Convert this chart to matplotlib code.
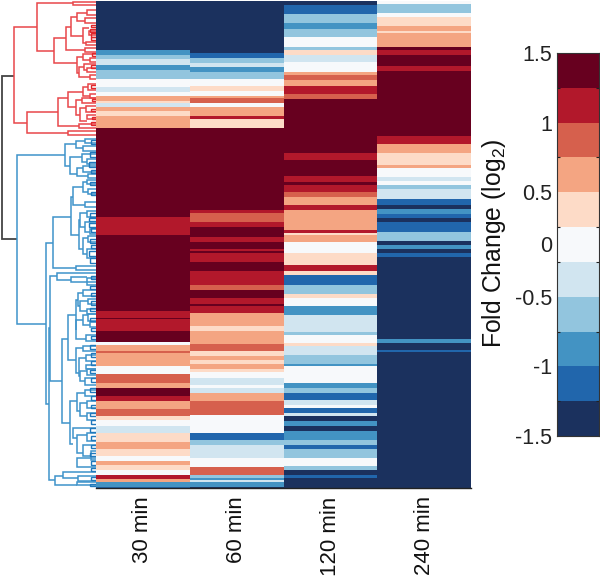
import numpy as np
import matplotlib
matplotlib.use("Agg")
import matplotlib.pyplot as plt
from matplotlib.colors import ListedColormap, BoundaryNorm

plt.rcParams['font.family'] = ['Liberation Sans', 'DejaVu Sans']
plt.rcParams['mathtext.default'] = 'regular'

W, H = 600, 579
TIMES = ['30 min', '60 min', '120 min', '240 min']
COLORS = ['#1B315E', '#2166AC', '#4393C3', '#92C5DE', '#D1E5F0', '#F7F9FB',
          '#FDDBC7', '#F4A582', '#D6604D', '#B2182B', '#67001F']
CB_TICKLABELS = {11: '1.5', 9: '1', 7: '0.5', 5.5: '0', 4: '-0.5', 2: '-1', 0: '-1.5'}
BOT = 735
TOTAL = 1465

# (level, last row of run) for the upper and lower part of each column
C1_T = [(-5,150),(-3,165),(-2,178),(-1,195),(-3,210),(-2,237),(0,262),(-1,275),(0,288),(2,302),(1,310),(-1,322),(2,332),(1,347),(2,385),(5,650),(4,705),(5,735)]
C1_B = [(5,198),(4,220),(5,224),(4,260),(5,293),(0,300),(2,318),(3,325),(2,365),(0,388),(3,415),(2,430),(5,455),(4,468),(2,492),(3,515),(1,527),(0,543),(-1,565),(1,592),(2,612),(1,635),(0,650),(2,662),(1,675),(0,690),(4,702),(2,712),(-3,726),(-4,730)]
C2_T = [(-5,160),(-4,175),(-2,190),(-1,200),(-3,215),(-2,237),(0,258),(1,272),(0,288),(2,295),(3,308),(0,322),(2,347),(4,358),(1,385),(5,630),(4,640),(3,665),(4,680),(5,712),(4,725),(5,735)]
C2_B = [(5,12),(4,20),(5,25),(4,52),(5,78),(4,120),(3,135),(5,160),(4,178),(5,185),(4,205),(2,245),(1,260),(2,298),(3,320),(1,335),(2,345),(1,358),(2,372),(1,382),(0,400),(-1,420),(0,430),(-1,445),(2,468),(3,510),(0,565),(-4,585),(-2,600),(-1,640),(0,668),(3,690),(-2,700),(-3,705),(-1,712),(-3,726),(-5,730)]
C3_T = [(-5,15),(-4,42),(-2,68),(-3,88),(-2,112),(0,140),(-2,150),(1,165),(-1,185),(0,215),(2,225),(3,240),(2,258),(4,282),(3,298),(5,458),(4,480),(5,527),(4,545),(5,555),(4,575),(3,590),(2,615),(4,630),(2,690),(4,698),(1,705),(2,725),(0,735)]
C3_B = [(0,25),(1,60),(4,80),(1,90),(-4,120),(-2,148),(1,160),(0,185),(-3,210),(-1,262),(-2,270),(0,295),(1,305),(-1,330),(-2,358),(-3,365),(0,415),(-3,430),(-2,445),(-4,465),(-1,480),(0,490),(-4,505),(-1,515),(-5,528),(-3,545),(-5,560),(-3,585),(-2,600),(-4,612),(-2,640),(0,665),(-2,675),(-5,690),(-4,700),(-5,730)]
C4_T = [(0,12),(-2,38),(0,52),(1,78),(2,92),(1,100),(2,140),(5,150),(4,165),(5,197),(4,212),(5,408),(4,432),(2,458),(1,495),(2,505),(0,530),(-1,542),(0,555),(-2,568),(-1,598),(-4,615),(-5,628),(-3,642),(-4,655),(-5,665),(-4,695),(-2,722),(-5,735)]
C4_B = [(-3,12),(-5,25),(-4,38),(-5,283),(-3,295),(-5,315),(-4,322),(-5,730)]

# dendrogram brackets: (height, row a, child height a, row b, child height b)
ROOT = [(5,228,42,717,52)]
RED = [(42,80,112,370,82),(112,10,220,152,163),(220,7,288,14,288),(163,113,198,190,232),(198,80,212,150,255),
       (212,50,232,108,250),(232,38,262,62,255),(262,30,288,44,288),(255,55,288,68,288),(250,85,268,130,258),
       (268,92,288,104,288),(258,125,288,136,288),(255,145,288,155,288),(232,172,250,220,238),(250,163,288,180,270),
       (270,175,288,186,288),(238,200,252,232,270),(252,192,288,210,262),(262,205,288,215,288),(270,226,288,238,288),
       (82,337,175,398,205),(205,392,288,404,288),(175,295,205,378,238),(205,275,248,320,228),(248,262,265,288,270),
       (265,252,288,270,288),(270,282,288,294,288),(228,300,245,345,240),(245,295,288,310,288),(240,325,258,362,262),
       (258,318,288,335,288),(262,345,288,358,288),(238,372,288,385,288)]
RED_LEAVES = [(272,74,82),(270,88,96),(274,98,110),(272,112,120),(276,160,168),(274,196,204),(272,256,264),(276,298,304),
              (274,326,332),(276,350,356),(272,366,376)]
BLUE_U = [(52,465,195,972,138),(195,432,228,497,210),(228,422,255,445,248),(255,416,288,428,288),(248,438,288,452,288),
          (210,472,245,522,232),(245,462,288,485,262),(262,478,288,492,288),(232,505,250,528,265),(250,498,288,515,288),
          (265,522,288,534,288),(158,650,212,805,228),(212,590,220,705,238),(220,560,248,615,255),(248,545,262,575,265),
          (262,540,288,552,288),(265,568,288,582,288),(255,605,288,622,288),(238,660,240,748,250),(240,640,262,680,255),
          (262,632,288,650,288),(255,665,288,695,270),(270,688,288,702,288),(250,715,265,762,260),(265,708,288,725,288),
          (260,748,288,775,288),(228,798,288,812,288)]
BLUE_L = [(138,-5,158,478,148),(148,250,150,705,165),(150,95,172,408,185),(172,85,288,105,212),(212,98,260,112,288),
          (262,100,288,120,288),(185,282,205,535,210),(205,210,228,345,228),(228,165,235,255,228),(235,145,250,185,240),
          (250,135,288,155,288),(240,170,265,200,262),(265,162,288,178,288),(262,192,288,208,288),(228,225,248,282,258),
          (248,212,265,240,270),(265,208,288,228,288),(270,232,288,248,288),(258,272,288,290,288),(228,310,248,385,238),
          (248,305,288,318,288),(238,340,258,395,240),(258,330,288,350,288),(258,360,288,372,288),(240,380,262,410,255),
          (262,372,288,390,288),(255,400,288,420,288),(210,470,232,598,218),(232,445,255,500,240),(255,435,288,455,288),
          (240,475,262,515,262),(262,468,288,490,288),(262,505,288,525,288),(218,550,288,580,230),(230,570,262,625,250),
          (262,565,288,590,288),(250,600,288,635,272),(272,620,288,645,288),(230,640,288,668,288),(165,695,190,720,232),
          (190,683,288,700,235),(235,695,288,708,288),(232,712,288,722,288)]
BLUE_LEAVES = [(272,420,432),(270,456,470),(268,486,500),(274,510,520),(270,545,555),(272,576,586),(270,640,652),(266,655,664),
               (268,668,680),(272,684,696),(270,718,728),(272,735,745),(266,755,768),(270,775,790),(272,830,838),(270,858,868),
               (274,880,890),(272,905,915),(270,925,935),(270,955,965),(274,985,995),(272,1008,1018),(270,1035,1048),(272,1060,1072),
               (274,1085,1095),(270,1110,1120),(272,1135,1148),(270,1165,1178),(274,1190,1200),(272,1215,1225),(270,1240,1250),
               (272,1262,1272),(270,1285,1298),(274,1310,1320),(272,1335,1345),(270,1360,1370),(272,1385,1395),(274,1405,1415),
               (272,1432,1442),(270,1452,1460)]


def column(top, bottom):
    lv = [a for a, _ in top] + [a for a, _ in bottom]
    ends = [b for _, b in top] + [b + BOT for _, b in bottom]
    return np.repeat(lv, np.diff([0] + ends))


def rect(x0, y0, x1, y1):
    return [x0 / W, 1 - y1 / H, (x1 - x0) / W, (y1 - y0) / H]


fig = plt.figure(figsize=(W / 100, H / 100), dpi=100)
cmap = ListedColormap(COLORS)
norm = BoundaryNorm(np.arange(-5.5, 6.5), cmap.N)

# heatmap
ax = fig.add_axes(rect(96, 1, 471, 488))
data = np.column_stack([column(C1_T, C1_B), column(C2_T, C2_B), column(C3_T, C3_B), column(C4_T, C4_B)])
ax.pcolormesh(np.arange(5), np.arange(TOTAL + 1), data, cmap=cmap, norm=norm, shading='flat',
              antialiased=False, rasterized=True)
ax.set_xlim(0, 4)
ax.set_ylim(TOTAL, 3)
ax.set_xticks(np.arange(4) + 0.5)
ax.set_xticklabels(TIMES, rotation=90, fontsize=16, color='#111111')
ax.tick_params(axis='x', length=0, pad=6)
ax.set_yticks([])
for s in ['top', 'left', 'right']:
    ax.spines[s].set_visible(False)
ax.spines['bottom'].set_color('#222222')
ax.spines['bottom'].set_linewidth(1.0)

# dendrogram
dn = fig.add_axes(rect(0, 1, 96, 488))
dn.set_xlim(0, 288)
dn.set_ylim(TOTAL, 3)
dn.axis('off')


def draw(brackets, color, lw, offset=0):
    for h, ya, ha, yb, hb in brackets:
        dn.plot([ha, h, h, hb], [ya + offset, ya + offset, yb + offset, yb + offset],
                color=color, lw=lw, solid_joinstyle='miter', solid_capstyle='butt')


def leaves(items, color, lw):
    for h, ya, yb in items:
        dn.plot([288, h, h, 288], [ya, ya, yb, yb], color=color, lw=lw,
                solid_joinstyle='miter', solid_capstyle='butt')


draw(ROOT, '#444444', 1.3)
draw(RED, '#E8474A', 1.1)
draw(BLUE_U, '#3F93CA', 1.1)
draw(BLUE_L, '#3F93CA', 1.1, BOT)
leaves(RED_LEAVES, '#E0262B', 1.0)
leaves(BLUE_LEAVES, '#1F78BC', 1.0)

# colour bar
cb = fig.add_axes(rect(557, 53, 599, 436))
cb.pcolormesh([0, 1], np.arange(12), np.arange(-5, 6).reshape(-1, 1), cmap=cmap, norm=norm)
cb.set_xticks([])
cb.set_yticks(sorted(CB_TICKLABELS))
cb.set_yticklabels([CB_TICKLABELS[k] for k in sorted(CB_TICKLABELS)], fontsize=15.5, color='#222222')
cb.tick_params(axis='y', length=0, pad=3.5)
cb.set_yticks(np.arange(1, 11), minor=True)
cb.tick_params(axis='y', which='minor', length=2.5, width=0.8, direction='in', left=True, right=True, color='#222222')
for s in cb.spines.values():
    s.set_color('#333333')
    s.set_linewidth(0.8)
fig.text(494 / W, 1 - 243 / H, 'Fold Change (log$_2$)', rotation=90, fontsize=17.8,
         ha='center', va='center', color='#111111')

fig.savefig('out.png', dpi=100)
